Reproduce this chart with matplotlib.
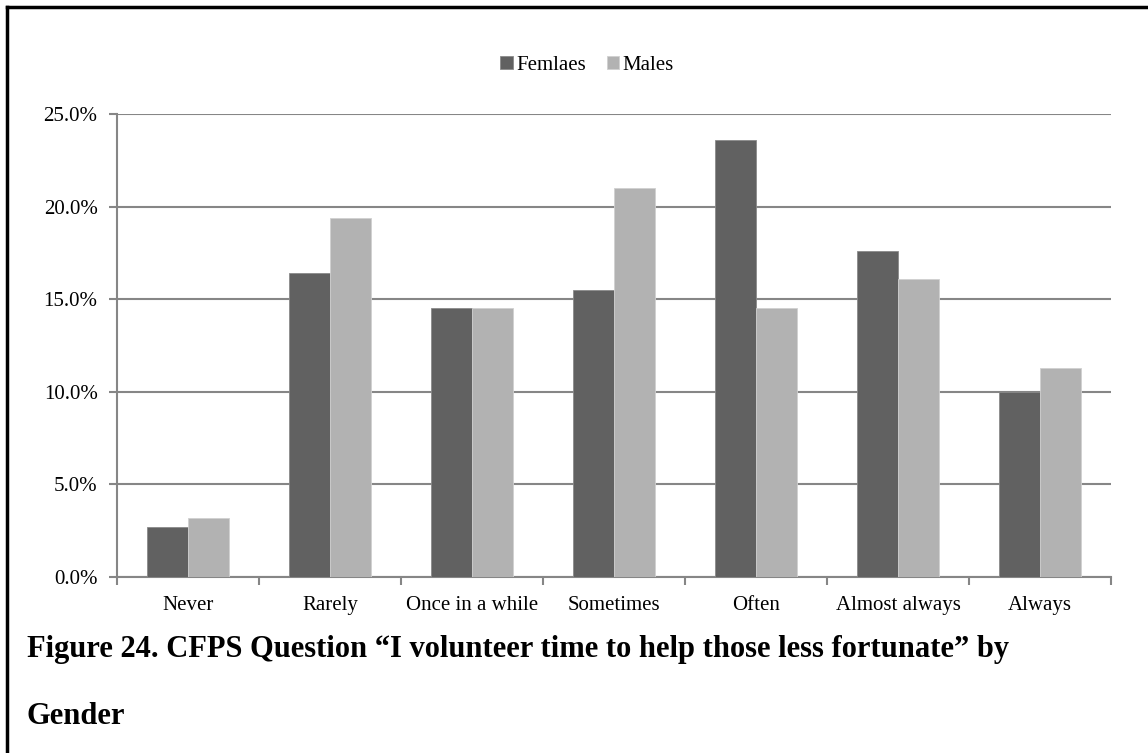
import numpy as np
import matplotlib
matplotlib.use("Agg")
import matplotlib.pyplot as plt
from matplotlib.ticker import FuncFormatter
from matplotlib.lines import Line2D

categories = ["Never", "Rarely", "Once in a while", "Sometimes", "Often", "Almost always", "Always"]
females = [2.7, 16.4, 14.5, 15.5, 23.6, 17.6, 10.0]
males = [3.2, 19.4, 14.5, 21.0, 14.5, 16.1, 11.3]
series_names = ["Femlaes", "Males"]
y_ticks = [0, 5, 10, 15, 20, 25]
caption = ["Figure 24. CFPS Question \u201cI volunteer time to help those less fortunate\u201d by",
           "Gender"]

plt.rcParams["font.family"] = ["Liberation Serif", "DejaVu Serif"]

W, H = 1148, 753
fig = plt.figure(figsize=(W / 100, H / 100), dpi=100)
ax = fig.add_axes([117 / W, 1 - 577 / H, (1111 - 117) / W, (577 - 114) / H])

x = np.arange(len(categories))
w = 1 / 3.5
ax.bar(x - w / 2, females, w, color="#616161", edgecolor="#8a8a8a", linewidth=0.6,
       label=series_names[0], zorder=3)
ax.bar(x + w / 2, males, w, color="#b2b2b2", edgecolor="#d0d0d0", linewidth=0.6,
       label=series_names[1], zorder=3)

ax.set_xlim(-0.5, len(categories) - 0.5)
ax.set_ylim(0, 25)
ax.set_yticks(y_ticks)
ax.yaxis.set_major_formatter(FuncFormatter(lambda v, _: f"{v:.1f}%"))
ax.yaxis.grid(True, color="#868686", linewidth=1.5, zorder=0)

# category labels sit in the middle, ticks go on the boundaries
ax.set_xticks(x)
ax.set_xticklabels(categories)
ax.tick_params(axis="x", length=0, labelsize=15, pad=14)
ax.set_xticks(np.arange(-0.5, len(categories)), minor=True)
ax.tick_params(axis="x", which="minor", length=6, color="#868686", width=1.5, direction="out")
ax.tick_params(axis="y", length=6, color="#868686", width=1.5, labelsize=15, pad=8)

for side in ["top", "right"]:
    ax.spines[side].set_visible(False)
for side in ["left", "bottom"]:
    ax.spines[side].set_color("#868686")
    ax.spines[side].set_linewidth(1.5)

fig.legend(loc="center", bbox_to_anchor=(587 / W, 1 - 65 / H), ncol=2, frameon=False,
           fontsize=15, handlelength=0.6, handleheight=0.6, handletextpad=0.15,
           columnspacing=1.0)

fig.text(27 / W, 1 - 650 / H, caption[0], fontsize=22, fontweight="bold", va="center")
fig.text(27 / W, 1 - 717 / H, caption[1], fontsize=22, fontweight="bold", va="center")

# frame lines along the top and left edge
fig.add_artist(Line2D([7 / W, 7 / W], [0, 1 - 7 / H], color="black", linewidth=2.5,
                      transform=fig.transFigure))
fig.add_artist(Line2D([7 / W, 1], [1 - 7 / H, 1 - 7 / H], color="black", linewidth=2.5,
                      transform=fig.transFigure))

fig.savefig("out.png", dpi=100)
